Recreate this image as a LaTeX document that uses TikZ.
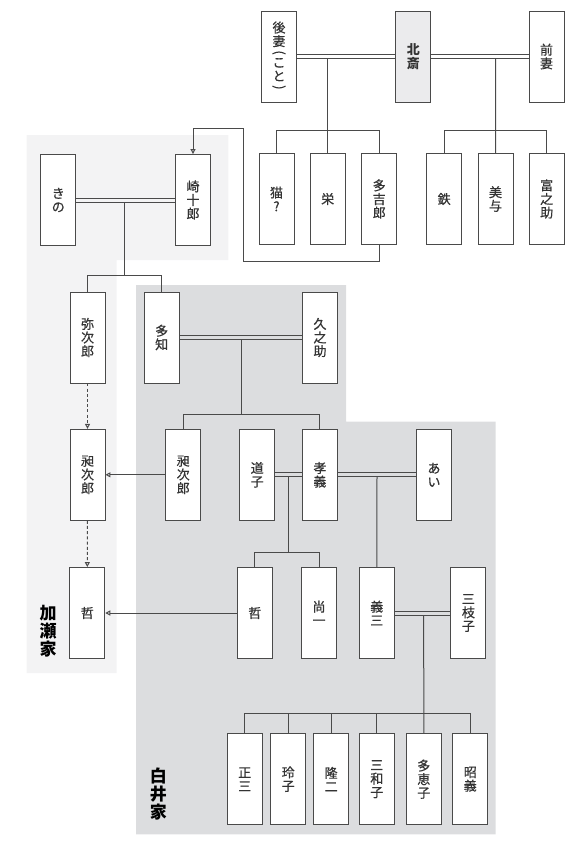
\documentclass[tikz,border=0pt]{standalone}
\usepackage{fontspec}
\newfontfamily\jp{Noto Sans CJK JP}
\newfontfamily\jpm{Noto Sans CJK JP}[FakeBold=0.6]
\usetikzlibrary{arrows.meta}
\definecolor{lightbg}{HTML}{F3F3F4}
\definecolor{darkbg}{HTML}{DCDDDF}
\definecolor{edge}{HTML}{4A4A4A}
\definecolor{txt}{HTML}{333333}
\definecolor{hkfill}{HTML}{EBEBED}
\tikzset{
  person/.style={draw=edge, line width=0.9pt, fill=white, minimum width=35pt, minimum height=91pt,
    inner sep=0pt, align=center, text=txt, font=\jpm\fontsize{13}{13.6}\selectfont},
  link/.style={draw=edge, line width=1pt},
  marr/.style={draw=edge, line width=0.9pt},
  adopt/.style={draw=edge, line width=1pt, -{Triangle[open, length=5pt, width=5pt]}},
  dotadopt/.style={adopt, dash pattern=on 3pt off 2.2pt},
  family/.style={text=black, align=center, font=\jp\bfseries\fontsize{17}{18}\selectfont}
}
\newcommand{\vparL}{\rotatebox[origin=c]{-90}{(}}
\newcommand{\vparR}{\rotatebox[origin=c]{-90}{)}}
\begin{document}
\begin{tikzpicture}[x=1pt,y=-1pt]
\useasboundingbox (0,0) rectangle (573,846);
% backgrounds
\fill[lightbg] (26.7,135) -- (228.3,135) -- (228.3,260) -- (116.7,260) -- (116.7,673) -- (26.7,673) -- cycle;
\fill[darkbg] (136,285) -- (346,285) -- (346,421.7) -- (495.7,421.7) -- (495.7,834.3) -- (136,834.3) -- cycle;

% top generation
\node[person] (goma) at (279,56.5) {後\\妻\\[-3pt]\vparL\\[-3pt]こ\\と\\[-3pt]\vparR};
\node[person, fill=hkfill, font=\jp\bfseries\fontsize{13}{13.6}\selectfont] (hokusai) at (413.4,56.5) {北\\斎};
\node[person] (zensai) at (546.5,56.5) {前\\妻};

% children row
\node[person] (neko) at (276.5,199) {猫\\?};
\node[person] (sakae) at (327.7,199) {栄};
\node[person] (takichi) at (379.2,199) {多\\吉\\郎};
\node[person] (tetsu) at (444.2,199) {鉄};
\node[person] (miyo) at (495.5,199) {美\\与};
\node[person] (tomi) at (546.7,199) {富\\之\\助};
\node[person] (kino) at (58.3,200) {き\\の};
\node[person] (saki) at (193,200) {崎\\十\\郎};

% row 3
\node[person] (yajiro) at (87.5,337.5) {弥\\次\\郎};
\node[person] (tachi) at (161.7,337.5) {多\\知};
\node[person] (kyu) at (320,337.5) {久\\之\\助};

% row 4
\node[person] (kojiroL) at (87.5,474.8) {昶\\次\\郎};
\node[person] (kojiroR) at (183.2,474.8) {昶\\次\\郎};
\node[person] (michiko) at (257.2,474.8) {道\\子};
\node[person] (takayoshi) at (319.9,474.8) {孝\\義};
\node[person] (ai) at (434,474.8) {あ\\い};

% row 5
\node[person] (tetsuL) at (87.3,613) {哲};
\node[person] (tetsuR) at (254.8,613) {哲};
\node[person] (shoichi) at (319,613) {尚\\一};
\node[person] (yoshizo) at (376.8,613) {義\\三};
\node[person] (mieko) at (468.4,613) {三\\枝\\子};

% row 6
\node[person] (shozo) at (244.7,779.2) {正\\三};
\node[person] (reiko) at (288.2,779.2) {玲\\子};
\node[person] (ryuji) at (331.2,779.2) {隆\\二};
\node[person] (miwako) at (376.8,779.2) {三\\和\\子};
\node[person] (taeko) at (423.8,779.2) {多\\恵\\子};
\node[person] (akiyoshi) at (470.3,779.2) {昭\\義};

% family labels
\node[family] (kase) at (48,631.5) {加\\瀬\\家};
\node[family] (shirai) at (158.3,794) {白\\井\\家};

% marriage double lines
\foreach \a/\b in {goma/hokusai, hokusai/zensai, kino/saki, tachi/kyu, michiko/takayoshi, takayoshi/ai, yoshizo/mieko}{
  \draw[marr] ([yshift=-2pt]\a.east) -- ([yshift=-2pt]\b.west);
  \draw[marr] ([yshift=2pt]\a.east) -- ([yshift=2pt]\b.west);
}

% descent coordinates
\coordinate (d1) at (327.7,58.5);
\coordinate (d2) at (495.7,58.5);
\coordinate (d3) at (124.3,202);
\coordinate (d4) at (241,339.5);
\coordinate (d5) at (288.5,476.8);
\coordinate (d6) at (377,476.8);
\coordinate (d7) at (423.7,615);

% descent lines
\draw[link] (d1) -- (sakae.north);
\draw[link] (neko.north) -- (neko.north |- 0,130.7) -- (takichi.north |- 0,130.7) -- (takichi.north);
\draw[link] (d2) -- (miyo.north);
\draw[link] (tetsu.north) -- (tetsu.north |- 0,130.7) -- (tomi.north |- 0,130.7) -- (tomi.north);
\draw[link] (d3) -- (124.3,275);
\draw[link] (yajiro.north) -- (yajiro.north |- 0,275) -- (tachi.north |- 0,275) -- (tachi.north);
\draw[link] (d4) -- (241,414);
\draw[link] (kojiroR.north) -- (kojiroR.north |- 0,414) -- (takayoshi.north |- 0,414) -- (takayoshi.north);
\draw[link] (d5) -- (288.5,552.3);
\draw[link] (tetsuR.north) -- (tetsuR.north |- 0,552.3) -- (shoichi.north |- 0,552.3) -- (shoichi.north);
\draw[link] (d6) -- (yoshizo.north);
\draw[link] (d7) -- (taeko.north);
\draw[link] (shozo.north) -- (shozo.north |- 0,713.7) -- (akiyoshi.north |- 0,713.7) -- (akiyoshi.north);
\draw[link] (reiko.north) -- (reiko.north |- 0,713.7);
\draw[link] (ryuji.north) -- (ryuji.north |- 0,713.7);
\draw[link] (miwako.north) -- (miwako.north |- 0,713.7);

% adoption connectors
\draw[adopt] (takichi.south) -- (379.2,261.7) -- (243.3,261.7) -- (243.3,128.3) -- (193,128.3) -- (saki.north);
\draw[dotadopt] (yajiro.south) -- (kojiroL.north);
\draw[dotadopt] (kojiroL.south) -- (tetsuL.north);
\draw[adopt] (kojiroR.west) -- (kojiroL.east);
\draw[adopt] (tetsuR.west) -- (tetsuL.east);
\end{tikzpicture}
\end{document}
